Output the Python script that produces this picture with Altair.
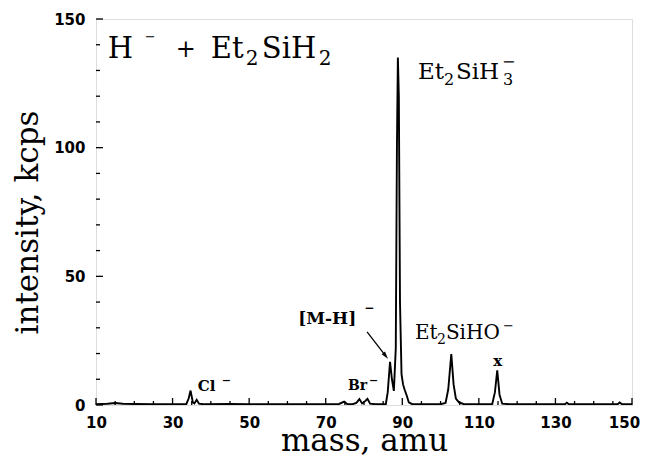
import altair as alt
import pandas as pd

# ---- spectrum (mass in amu, intensity in kcps) ----
mass = [10, 13, 15, 17, 20, 25, 30, 33.6, 34.2, 34.7, 35.3, 35.7, 36.3, 36.9, 38,
        45, 50, 55, 60, 65, 70, 73.5, 74.8, 75.6, 77, 78, 78.8, 79.5, 80.3, 80.9,
        81.6, 83, 85.7, 86.2, 86.8, 87.3, 87.8, 88.3, 88.6, 88.85, 89.1, 89.4,
        89.8, 90.2, 90.6, 91.2, 91.7, 92.5, 95, 100, 101.3, 102.0, 102.8, 103.4,
        104.0, 104.8, 106, 110, 113.5, 114.2, 114.8, 115.4, 116.1, 118, 125,
        132.5, 133, 133.5, 140, 146.3, 146.8, 147.4, 150]
intensity = [0.3, 0.5, 0.8, 0.5, 0.4, 0.3, 0.3, 0.4, 2.5, 5.6, 1.0, 0.6, 2.0, 0.5, 0.3,
             0.4, 0.3, 0.3, 0.3, 0.3, 0.3, 0.4, 1.3, 0.4, 0.3, 0.8, 2.3, 0.6, 1.5, 2.4,
             0.5, 0.3, 0.4, 5.0, 16.8, 10.0, 5.5, 22.0, 100.0, 135.0, 120.0, 40.0,
             12.0, 8.0, 6.0, 3.5, 1.0, 0.4, 0.3, 0.3, 0.8, 6.0, 19.8, 8.0,
             2.5, 1.0, 0.4, 0.3, 0.4, 5.0, 13.5, 4.0, 0.5, 0.3, 0.3,
             0.3, 0.9, 0.3, 0.3, 0.4, 1.0, 0.3, 0.3]

x_labels = [10, 30, 50, 70, 90, 110, 130, 150]
x_minor = [v for v in range(10, 151, 5) if v not in x_labels]
y_labels = [0, 50, 100, 150]
y_minor = [v for v in range(0, 151, 10) if v not in y_labels]

# annotation anchors (mass, intensity) for each label
anchor_title = (13.1, 134.9)
anchor_siH3 = (94.1, 126.7)
anchor_siHO = (93.3, 25.6)
anchor_MH = (62.8, 31.5)
anchor_Br = (75.8, 5.8)
anchor_Cl = (36.6, 5.4)
anchor_x = (114.9, 15.2)
arrow_from = (80.8, 28.4)
arrow_to = (85.5, 19.4)

W, H = 536, 386
SERIF = "DejaVu Serif"
xs = alt.Scale(domain=[10, 150], nice=False, zero=False)
ys = alt.Scale(domain=[0, 150], nice=False)

spec = pd.DataFrame({"mass": mass, "intensity": intensity})

line = alt.Chart(spec).mark_line(color="black", strokeWidth=1.9, clip=True).encode(
    x=alt.X("mass:Q", scale=xs,
            axis=alt.Axis(values=x_labels, title="mass, amu", grid=False, ticks=False,
                          domain=False, labelFont="DejaVu Sans", labelFontWeight="bold",
                          labelFontSize=15, labelColor="black", labelPadding=10,
                          labelFlush=False,
                          labelOffset={"condition": {"test": "datum.value == 150", "value": -8},
                                       "value": 0},
                          titleFont=SERIF, titleFontSize=31, titleFontWeight="normal",
                          titleColor="black", titleBaseline="alphabetic",
                          titleY=45, titleX=W / 2)),
    y=alt.Y("intensity:Q", scale=ys,
            axis=alt.Axis(values=y_labels, title="intensity, kcps", grid=False, ticks=False,
                          domain=False, labelFont="DejaVu Sans", labelFontWeight="bold",
                          labelFontSize=15, labelColor="black", labelPadding=11,
                          labelFlush=False,
                          titleFont=SERIF, titleFontSize=31, titleFontWeight="normal",
                          titleColor="black", titleBaseline="alphabetic",
                          titleX=-59, titleY=203)),
)

def xticks(vals, length):
    return alt.Chart(pd.DataFrame({"m": vals})).mark_rule(color="black", strokeWidth=1.3).encode(
        x=alt.X("m:Q", scale=xs), y=alt.value(H), y2=alt.value(H - length))

def yticks(vals, length):
    return alt.Chart(pd.DataFrame({"v": vals})).mark_rule(color="black", strokeWidth=1.3).encode(
        y=alt.Y("v:Q", scale=ys), x=alt.value(0), x2=alt.value(length))

def piece(anchor, text, dx, dy, size, weight="normal", align="left"):
    df = pd.DataFrame({"m": [anchor[0]], "v": [anchor[1]], "t": [text]})
    return alt.Chart(df).mark_text(align=align, baseline="alphabetic", font=SERIF,
                                   fontSize=size, fontWeight=weight, color="black",
                                   dx=dx, dy=dy).encode(
        x=alt.X("m:Q", scale=xs), y=alt.Y("v:Q", scale=ys), text="t:N")

texts = [
    # H⁻ + Et₂SiH₂
    piece(anchor_title, "H", 0, 0, 29),
    piece(anchor_title, "−", 37, -17, 13),
    piece(anchor_title, "+", 68, -1, 24),
    piece(anchor_title, "Et", 103, 0, 29),
    piece(anchor_title, "2", 138, 7, 20),
    piece(anchor_title, "SiH", 154, 0, 29),
    piece(anchor_title, "2", 211, 7, 20),
    # Et₂SiH₃⁻
    piece(anchor_siH3, "Et", 0, 0, 23),
    piece(anchor_siH3, "2", 26, 6, 16),
    piece(anchor_siH3, "SiH", 38, 0, 23),
    piece(anchor_siH3, "3", 85, 6, 16),
    piece(anchor_siH3, "−", 84, -12, 16),
    # Et₂SiHO⁻
    piece(anchor_siHO, "Et", 0, 0, 20),
    piece(anchor_siHO, "2", 22, 5, 14),
    piece(anchor_siHO, "SiHO", 31, 0, 20),
    piece(anchor_siHO, "−", 88, -9, 13),
    # [M-H]⁻
    piece(anchor_MH, "[M-H]", 0, 0, 17, "bold"),
    piece(anchor_MH, "−", 66, -12, 12, "bold"),
    # Br⁻, Cl⁻, x
    piece(anchor_Br, "Br", 0, 0, 14, "bold"),
    piece(anchor_Br, "−", 21, -6, 11, "bold"),
    piece(anchor_Cl, "Cl", 0, 0, 15, "bold"),
    piece(anchor_Cl, "−", 24, -7, 11, "bold"),
    piece(anchor_x, "x", 0, 0, 15, "bold", "center"),
]

arrow_df = pd.DataFrame({"m": [arrow_from[0]], "v": [arrow_from[1]],
                         "m2": [arrow_to[0]], "v2": [arrow_to[1]]})
arrow_line = alt.Chart(arrow_df).mark_rule(color="black", strokeWidth=1.3).encode(
    x=alt.X("m:Q", scale=xs), y=alt.Y("v:Q", scale=ys), x2="m2:Q", y2="v2:Q")
arrow_head = alt.Chart(pd.DataFrame({"m": [arrow_to[0]], "v": [arrow_to[1]]})).mark_point(
    shape="M0,-1L0.45,0.6L-0.45,0.6Z", filled=True, color="black", opacity=1, size=90, angle=142
).encode(x=alt.X("m:Q", scale=xs), y=alt.Y("v:Q", scale=ys))

chart = alt.layer(
    line,
    xticks(x_labels, 7), xticks(x_minor, 4),
    yticks(y_labels, 7), yticks(y_minor, 4),
    *texts,
    arrow_line, arrow_head,
).properties(
    width=W, height=H,
    autosize=alt.AutoSizeParams(type="none"),
    padding={"left": 88, "top": 11, "right": 8, "bottom": 52},
).configure_view(stroke="black", strokeWidth=2.2).configure(background="white")

chart.save("out.html", embed_options={"renderer": "svg", "actions": False})
